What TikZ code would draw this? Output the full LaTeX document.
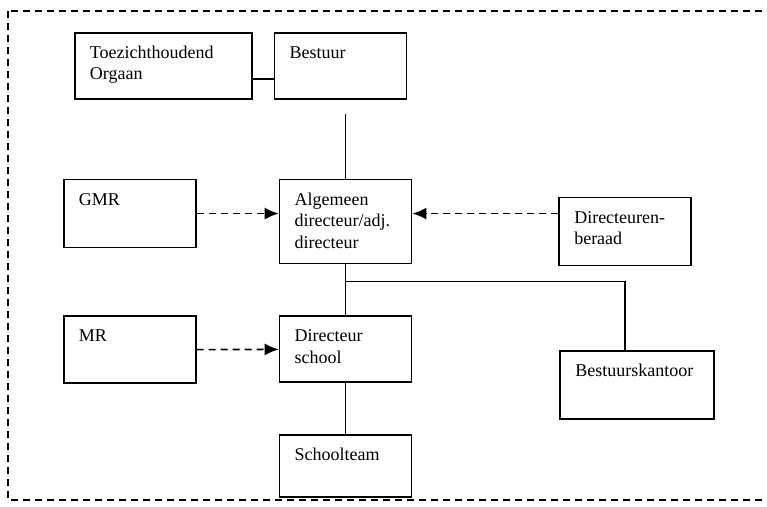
\documentclass[tikz,border=0pt]{standalone}
\usepackage{fontspec}
\setmainfont{Liberation Serif}
\usetikzlibrary{positioning,arrows.meta}

\begin{document}
\begin{tikzpicture}[x=1pt,y=1pt]
\tikzstyle{unit}=[draw=black, line width=1.7pt, inner xsep=15pt, inner ysep=0pt, align=left, text height=25.5pt, font=\fontsize{18}{21.5}\selectfont]
\tikzstyle{link}=[line width=1.6pt]
\tikzstyle{advice}=[-{Latex[length=14pt,width=12pt]}, line width=1.6pt, dash pattern=on 7pt off 5pt]
\useasboundingbox (0,0) rectangle (767,-506);
\draw[line width=2pt, dash pattern=on 7pt off 5pt] (8,-11) rectangle (790,-500);
  \node[unit, text width=147pt, text depth=40.5pt, anchor=north west] (toezicht) at (74,-32) {Toezichthoudend\\Orgaan};
  \node[unit, text width=102pt, text depth=40.5pt] (bestuur) [right=21pt of toezicht] {Bestuur};
  \node[unit, text width=102pt, text depth=58.5pt] (algemeen) [below=79pt of bestuur, xshift=5pt] {Algemeen\\directeur/adj.\\directeur};
  \node[unit, text width=102pt, text depth=40.5pt] (dirschool) [below=51pt of algemeen] {Directeur\\school};
  \node[unit, text width=102pt, text depth=36.5pt] (schoolteam) [below=51pt of dirschool] {Schoolteam};
  \node[unit, text width=102pt, text depth=42.5pt] (gmr) [left=82pt of algemeen.north west, anchor=north east] {GMR};
  \node[unit, text width=102pt, text depth=41.5pt] (mr) [left=82pt of dirschool.north west, anchor=north east] {MR};
  \node[unit, text width=102pt, text depth=42.5pt] (beraad) [right=146pt of algemeen.north east, anchor=north west, yshift=-18pt] {Directeuren-\\beraad};
  \node[unit, text width=124pt, text depth=42.5pt] (kantoor) [below=84pt of beraad.south west, anchor=north west, xshift=1pt] {Bestuurskantoor};
  \draw[link] ([yshift=-13pt]toezicht.east) -- ([yshift=-13pt]bestuur.west);
  \draw[link] ([yshift=-14pt]bestuur.south -| algemeen.north) -- (algemeen.north);
  \draw[link] (algemeen) -- (dirschool);
  \draw[link] ([yshift=-17pt]algemeen.south) -| ([xshift=-12pt]kantoor.north);
  \draw[link] (dirschool) -- (schoolteam);
  \draw[advice] (gmr) -- (gmr -| algemeen.west);
  \draw[advice] (beraad.west |- gmr) -- (algemeen.east |- gmr);
  \draw[advice] (mr) -- (dirschool);
\end{tikzpicture}
\end{document}
